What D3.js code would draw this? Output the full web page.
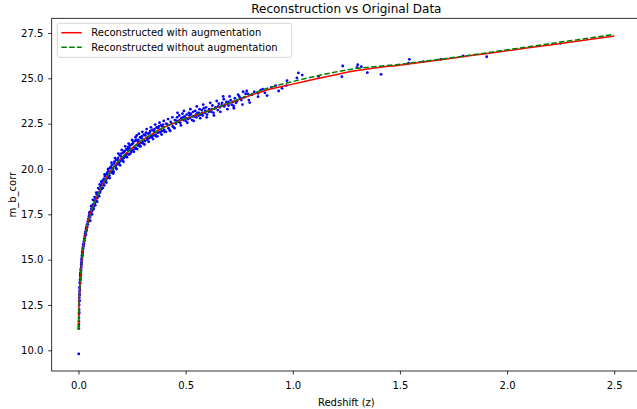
<!DOCTYPE html>
<html>
<head>
<meta charset="utf-8">
<script src="https://cdn.jsdelivr.net/npm/d3@7"></script>
<style>
  body { margin: 0; background: #fff; }
  svg text { font-family: "DejaVu Sans", sans-serif; fill: #000; }
</style>
</head>
<body>
<script>
// ---- data ----
var xTicks = [0, 0.5, 1.0, 1.5, 2.0, 2.5];
var yTicks = [10, 12.5, 15, 17.5, 20, 22.5, 25, 27.5];

var curveZ = [0, 0.002, 0.004, 0.006, 0.008, 0.01, 0.013, 0.016, 0.02, 0.025, 0.03, 0.04, 0.05, 0.06, 0.07, 0.08,
  0.1, 0.12, 0.15, 0.2, 0.25, 0.3, 0.35, 0.4, 0.45, 0.5, 0.55, 0.6, 0.65, 0.7, 0.75, 0.8, 0.85, 0.9,
  1.0, 1.1, 1.2, 1.3, 1.4, 1.5, 1.6, 1.7, 1.8, 1.9, 2.0, 2.1, 2.2, 2.3, 2.4, 2.5];
var withAug = [11.15, 12.2, 12.9, 13.4, 13.8, 14.15, 14.6, 15.0, 15.45, 15.9, 16.25, 16.85, 17.3, 17.68, 18.0, 18.3,
  18.85, 19.3, 19.88, 20.6, 21.15, 21.6, 21.97, 22.3, 22.55, 22.78, 22.98, 23.18, 23.4, 23.62, 23.83, 24.05, 24.24, 24.42,
  24.68, 24.95, 25.2, 25.43, 25.6, 25.72, 25.88, 26.04, 26.2, 26.36, 26.52, 26.68, 26.84, 27.0, 27.17, 27.33];
var withoutAug = [11.15, 12.2, 12.9, 13.4, 13.8, 14.15, 14.6, 15.0, 15.45, 15.9, 16.25, 16.85, 17.3, 17.68, 18.0, 18.3,
  18.85, 19.3, 19.88, 20.6, 21.15, 21.6, 21.97, 22.3, 22.55, 22.78, 22.98, 23.18, 23.4, 23.62, 23.86, 24.1, 24.32, 24.52,
  24.82, 25.1, 25.35, 25.55, 25.66, 25.77, 25.92, 26.07, 26.23, 26.4, 26.57, 26.74, 26.91, 27.08, 27.25, 27.43];

// observed supernovae [redshift, m_b_corr]
var observed = [
  [0.0012, 9.8],
  [0.0014, 11.2], [0.0016, 11.35], [0.0018, 11.6], [0.002, 11.45], [0.0022, 11.8], [0.0025, 12.0], [0.0028, 12.25],
  [0.003, 12.1], [0.0033, 12.5], [0.0036, 12.7], [0.004, 12.9], [0.0043, 12.75], [0.0046, 13.1], [0.005, 13.25],
  [0.0053, 13.05], [0.0056, 13.45], [0.006, 13.5], [0.0064, 13.35], [0.0068, 13.75], [0.0072, 13.7], [0.0076, 13.9],
  [0.008, 13.85], [0.0084, 14.1], [0.0088, 13.95], [0.0092, 14.2], [0.0096, 14.1], [0.01, 14.3], [0.0105, 14.2],
  [0.011, 14.45], [0.0115, 14.5], [0.012, 14.4], [0.0125, 14.7], [0.013, 14.6], [0.0135, 14.85], [0.014, 14.75],
  [0.0145, 15.0], [0.015, 14.85], [0.0155, 15.1], [0.016, 15.0], [0.0165, 15.25], [0.017, 15.15], [0.0175, 15.4],
  [0.018, 15.25], [0.0185, 15.45], [0.019, 15.35], [0.0195, 15.6], [0.02, 15.45], [0.021, 15.7], [0.022, 15.6],
  [0.023, 15.85], [0.024, 15.75], [0.025, 16.0], [0.026, 15.9], [0.027, 16.15], [0.028, 16.05], [0.029, 16.3],
  [0.03, 16.2], [0.031, 16.45], [0.032, 16.35], [0.033, 16.55], [0.034, 16.4], [0.035, 16.7], [0.036, 16.55],
  [0.037, 16.8], [0.038, 16.65], [0.04, 16.95], [0.041, 16.8], [0.043, 17.1], [0.044, 16.95], [0.046, 17.25],
  [0.047, 17.1], [0.049, 17.4], [0.05, 17.2], [0.052, 17.5], [0.054, 17.35], [0.056, 17.65], [0.058, 17.5],
  [0.06, 17.8], [0.062, 17.65], [0.064, 17.95], [0.066, 17.75], [0.068, 18.05], [0.07, 17.9], [0.073, 18.25],
  [0.076, 18.1], [0.079, 18.4], [0.082, 18.25], [0.085, 18.6], [0.088, 18.4], [0.091, 18.7], [0.094, 18.55],
  [0.097, 18.9], [0.1, 18.7],
  [0.051, 17.6], [0.055, 17.15], [0.059, 17.95], [0.063, 17.5], [0.067, 18.3], [0.071, 17.8], [0.075, 18.45],
  [0.078, 18.0], [0.083, 18.7], [0.087, 18.2], [0.092, 18.95], [0.096, 18.5], [0.099, 19.15],
  [0.104, 19.05], [0.108, 18.9], [0.112, 19.35], [0.116, 19.2], [0.12, 19.1], [0.124, 19.6], [0.128, 19.4],
  [0.132, 19.7], [0.136, 19.5], [0.14, 19.9], [0.144, 19.65], [0.148, 20.05], [0.152, 19.8], [0.156, 20.2],
  [0.16, 20.0], [0.164, 19.85], [0.168, 20.4], [0.172, 20.15], [0.176, 20.5], [0.18, 20.25], [0.184, 20.6],
  [0.188, 20.3], [0.192, 20.75], [0.196, 20.45], [0.2, 20.85], [0.204, 20.55], [0.208, 20.9], [0.212, 20.6],
  [0.216, 21.0], [0.22, 20.7], [0.224, 21.1], [0.228, 20.85], [0.232, 21.2], [0.236, 20.8], [0.24, 21.3],
  [0.244, 21.0], [0.248, 21.35], [0.252, 21.05], [0.256, 21.5], [0.26, 21.2], [0.264, 21.55], [0.268, 21.15],
  [0.272, 21.85], [0.276, 21.3], [0.28, 21.6], [0.284, 21.35], [0.288, 21.75], [0.292, 21.45], [0.296, 21.8],
  [0.3, 21.5], [0.305, 21.9], [0.31, 21.55], [0.315, 22.0], [0.32, 21.65], [0.325, 21.95], [0.33, 21.7],
  [0.335, 22.1], [0.34, 21.8], [0.345, 22.15], [0.35, 21.85], [0.355, 22.2], [0.36, 21.9], [0.365, 22.3],
  [0.37, 22.0], [0.375, 22.35], [0.38, 22.05], [0.385, 22.4], [0.39, 22.1], [0.395, 22.45], [0.4, 22.15],
  [0.41, 22.5], [0.42, 22.25], [0.43, 22.6], [0.44, 22.35], [0.45, 22.7],
  [0.102, 18.8], [0.11, 19.15], [0.118, 19.45], [0.126, 19.3], [0.134, 19.8], [0.142, 19.6], [0.15, 20.1],
  [0.158, 19.85], [0.166, 20.3], [0.174, 20.05], [0.182, 20.5], [0.19, 20.35], [0.198, 20.7], [0.206, 20.45],
  [0.214, 20.95], [0.222, 20.75], [0.23, 21.05], [0.238, 21.15], [0.246, 20.95], [0.254, 21.4], [0.262, 21.1],
  [0.27, 21.6], [0.278, 21.5], [0.286, 21.25], [0.294, 21.7], [0.302, 21.4], [0.312, 21.85], [0.322, 21.6],
  [0.332, 22.0], [0.342, 21.75], [0.352, 22.1], [0.362, 21.8], [0.372, 22.25], [0.382, 22.0], [0.392, 22.35],
  [0.402, 22.05], [0.415, 22.45], [0.425, 22.15], [0.435, 22.5], [0.445, 22.3],
  [0.106, 19.3], [0.114, 18.95], [0.122, 19.7], [0.13, 19.25], [0.138, 20.0], [0.146, 19.5], [0.154, 20.35],
  [0.162, 19.75], [0.17, 20.6], [0.178, 20.0], [0.186, 20.85], [0.194, 20.2], [0.202, 21.05], [0.21, 20.4],
  [0.218, 21.25], [0.226, 20.65], [0.234, 21.4], [0.242, 20.85], [0.25, 21.6], [0.258, 20.95], [0.266, 21.75],
  [0.274, 21.1], [0.282, 21.95], [0.29, 21.25], [0.298, 22.05], [0.308, 21.35], [0.318, 22.2], [0.328, 21.5],
  [0.338, 22.3], [0.348, 21.65], [0.358, 22.45], [0.368, 21.8], [0.378, 22.55], [0.388, 21.9], [0.398, 22.65],
  [0.408, 22.05], [0.418, 22.75], [0.428, 22.1], [0.438, 22.85], [0.448, 22.25],
  [0.455, 22.5], [0.46, 22.85], [0.465, 22.6], [0.47, 22.95], [0.475, 22.55], [0.48, 22.8], [0.485, 23.05],
  [0.49, 22.7], [0.495, 22.9], [0.5, 22.65], [0.505, 23.0], [0.51, 22.75], [0.515, 23.1], [0.52, 22.8],
  [0.525, 23.05], [0.53, 22.7], [0.535, 23.15], [0.54, 22.9], [0.545, 23.2], [0.55, 22.85], [0.555, 23.1],
  [0.56, 22.95], [0.565, 23.3], [0.57, 23.0], [0.575, 23.25], [0.58, 22.95], [0.585, 23.35], [0.59, 23.1],
  [0.595, 23.4], [0.6, 23.0], [0.61, 23.3], [0.62, 23.15], [0.625, 23.5], [0.63, 23.1], [0.64, 23.4],
  [0.65, 23.25], [0.655, 23.6], [0.66, 23.4], [0.67, 23.65], [0.675, 24.0], [0.68, 23.45], [0.69, 23.7],
  [0.7, 23.5], [0.71, 23.8], [0.715, 23.55], [0.724, 23.48], [0.73, 23.9], [0.74, 23.75], [0.75, 24.0],
  [0.76, 23.8], [0.768, 24.26], [0.775, 23.95], [0.78, 24.15], [0.791, 24.14], [0.799, 23.66], [0.81, 24.1],
  [0.82, 24.25],
  [0.458, 22.65], [0.472, 22.7], [0.488, 22.85], [0.502, 22.8], [0.518, 22.95], [0.532, 22.9], [0.548, 23.0],
  [0.562, 23.1], [0.578, 23.1], [0.592, 23.2], [0.608, 23.15], [0.622, 23.3], [0.638, 23.35], [0.652, 23.45],
  [0.668, 23.5], [0.685, 23.55], [0.7, 23.7], [0.72, 23.7], [0.735, 23.65], [0.755, 23.9],
  [0.462, 23.1], [0.478, 22.4], [0.492, 23.2], [0.508, 22.55], [0.522, 23.3], [0.538, 22.65], [0.552, 23.45],
  [0.568, 22.8], [0.582, 23.55], [0.598, 22.85], [0.615, 23.65], [0.632, 22.95], [0.645, 23.75], [0.662, 23.15],
  [0.678, 23.85], [0.695, 23.3], [0.705, 24.0], [0.725, 23.35], [0.745, 24.1], [0.765, 23.55], [0.785, 24.3],
  [0.795, 23.8],
  [0.838, 24.17], [0.838, 23.99], [0.85, 24.35], [0.86, 24.4], [0.87, 24.2], [0.88, 24.05], [0.9, 24.5],
  [0.92, 24.6], [0.934, 24.3], [0.95, 24.45], [0.97, 24.6], [0.973, 24.87], [1.019, 25.02], [1.026, 25.3],
  [1.044, 25.18], [1.12, 25.1], [1.229, 25.09], [1.233, 25.68], [1.3, 25.6], [1.303, 25.75], [1.32, 25.64],
  [1.348, 25.31], [1.412, 25.22], [1.54, 25.83], [1.544, 26.05], [1.61, 25.92], [1.691, 26.05], [1.795, 26.23],
  [1.905, 26.19], [2.25, 26.93]
];

// ---- layout ----
var w = 637;
var h = 409;
var plot = { left: 51.7, right: 641, top: 18.3, bottom: 371 };

var svg = d3.select("body")
  .append("svg")
  .attr("width", w)
  .attr("height", h);

var xScale = d3.scaleLinear().domain([-0.125, 2.625]).range([plot.left, plot.right]);
var yScale = d3.scaleLinear().domain([8.86, 28.31]).range([plot.bottom, plot.top]);

// scatter
svg.append("g")
  .selectAll("circle")
  .data(observed)
  .enter()
  .append("circle")
  .attr("cx", function (d) { return xScale(d[0]); })
  .attr("cy", function (d) { return yScale(d[1]); })
  .attr("r", 1.4)
  .attr("fill", "blue");

// reconstructed curves
var line = d3.line()
  .x(function (d) { return xScale(d[0]); })
  .y(function (d) { return yScale(d[1]); })
  .curve(d3.curveMonotoneX);

svg.append("path")
  .datum(d3.zip(curveZ, withAug))
  .attr("d", line)
  .attr("fill", "none")
  .attr("stroke", "red")
  .attr("stroke-width", 1.5);

svg.append("path")
  .datum(d3.zip(curveZ, withoutAug))
  .attr("d", line)
  .attr("fill", "none")
  .attr("stroke", "green")
  .attr("stroke-width", 1.5)
  .attr("stroke-dasharray", "5.5,2.4");

// axes
var xAxis = d3.axisBottom(xScale)
  .tickValues(xTicks)
  .tickFormat(d3.format(".1f"))
  .tickSize(3.5)
  .tickPadding(7.6);

var gx = svg.append("g")
  .attr("transform", "translate(0," + plot.bottom + ")")
  .call(xAxis);

var yAxis = d3.axisLeft(yScale)
  .tickValues(yTicks)
  .tickFormat(d3.format(".1f"))
  .tickSize(3.5)
  .tickPadding(4.9);

var gy = svg.append("g")
  .attr("transform", "translate(" + plot.left + ",0)")
  .call(yAxis);

[gx, gy].forEach(function (g) {
  g.select(".domain").remove();
  g.selectAll("line").attr("stroke", "#000").attr("stroke-width", 0.8);
  g.selectAll("text")
    .attr("font-family", "DejaVu Sans")
    .attr("font-size", 10)
    .attr("fill", "#000");
});

// frame
svg.append("rect")
  .attr("x", plot.left)
  .attr("y", plot.top)
  .attr("width", plot.right - plot.left)
  .attr("height", plot.bottom - plot.top)
  .attr("fill", "none")
  .attr("stroke", "#000")
  .attr("stroke-width", 0.8);

// labels
svg.append("text")
  .attr("x", (plot.left + plot.right) / 2)
  .attr("y", 13)
  .attr("text-anchor", "middle")
  .attr("font-size", 12)
  .text("Reconstruction vs Original Data");

svg.append("text")
  .attr("x", (plot.left + plot.right) / 2)
  .attr("y", 406)
  .attr("text-anchor", "middle")
  .attr("font-size", 10)
  .text("Redshift (z)");

svg.append("text")
  .attr("transform", "translate(15.5," + ((plot.top + plot.bottom) / 2) + ") rotate(-90)")
  .attr("text-anchor", "middle")
  .attr("font-size", 10)
  .text("m_b_corr");

// legend
var legendItems = [
  { label: "Reconstructed with augmentation", color: "red", dash: null },
  { label: "Reconstructed without augmentation", color: "green", dash: "5.5,2.4" }
];

var legend = svg.append("g").attr("transform", "translate(57.3,23.3)");

legend.append("rect")
  .attr("width", 234.4)
  .attr("height", 34)
  .attr("rx", 2)
  .attr("fill", "#fff")
  .attr("fill-opacity", 0.8)
  .attr("stroke", "#cccccc")
  .attr("stroke-width", 0.8);

var rows = legend.selectAll(".row")
  .data(legendItems)
  .enter()
  .append("g")
  .attr("transform", function (d, i) { return "translate(0," + (9.4 + i * 14.6) + ")"; });

rows.append("line")
  .attr("x1", 4)
  .attr("x2", 24.5)
  .attr("stroke", function (d) { return d.color; })
  .attr("stroke-width", 1.5)
  .attr("stroke-dasharray", function (d) { return d.dash; });

rows.append("text")
  .attr("x", 34)
  .attr("y", 3.6)
  .attr("font-size", 10)
  .text(function (d) { return d.label; });
</script>
</body>
</html>
